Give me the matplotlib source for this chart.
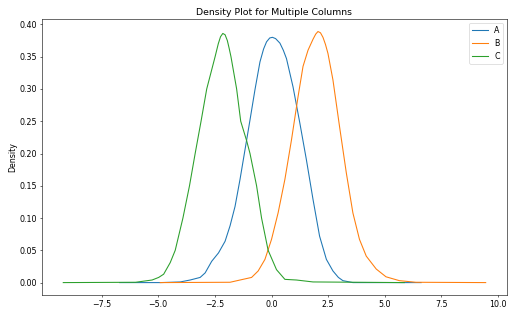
import matplotlib
matplotlib.use("Agg")
import matplotlib.pyplot as plt

# density curves (x, density)
a_x = [-6.7, -4.9, -4.03, -3.59, -3.15, -2.93, -2.64, -2.34, -2.05, -1.83, -1.61,
       -1.39, -1.17, -0.95, -0.73, -0.51, -0.35, -0.22, -0.08, 0.04, 0.18, 0.37,
       0.52, 0.66, 0.95, 1.25, 1.54, 1.83, 2.12, 2.42, 2.71, 2.95, 3.15, 3.59, 6.6]
a_y = [0.0, 0.0, 0.001, 0.004, 0.008, 0.015, 0.033, 0.046, 0.064, 0.088, 0.118,
       0.160, 0.206, 0.252, 0.299, 0.342, 0.362, 0.373, 0.379, 0.380, 0.378, 0.371,
       0.360, 0.347, 0.303, 0.247, 0.190, 0.129, 0.072, 0.036, 0.018, 0.008, 0.003,
       0.0, 0.0]

b_x = [-4.91, -1.83, -1.39, -0.88, -0.59, -0.29, 0.0, 0.29, 0.59, 0.88, 1.17,
       1.39, 1.61, 1.83, 1.95, 2.05, 2.16, 2.27, 2.38, 2.49, 2.71, 3.0, 3.30,
       3.59, 3.88, 4.18, 4.62, 5.05, 5.64, 6.37, 9.45]
b_y = [0.0, 0.0005, 0.004, 0.008, 0.018, 0.036, 0.067, 0.108, 0.160, 0.221, 0.288,
       0.335, 0.360, 0.377, 0.385, 0.389, 0.387, 0.380, 0.369, 0.355, 0.314, 0.242,
       0.170, 0.108, 0.067, 0.041, 0.021, 0.009, 0.003, 0.0005, 0.0]

c_x = [-9.19, -6.0, -5.27, -4.98, -4.76, -4.47, -4.25, -3.91, -3.62, -3.37, -3.11,
       -2.86, -2.49, -2.35, -2.25, -2.15, -2.05, -1.95, -1.87, -1.79, -1.54, -1.36,
       -1.10, -0.95, -0.66, -0.44, -0.15, 0.22, 0.59, 1.10, 1.83, 5.86]
c_y = [0.0, 0.0005, 0.004, 0.008, 0.013, 0.031, 0.05, 0.10, 0.15, 0.20, 0.25,
       0.30, 0.35, 0.370, 0.381, 0.386, 0.384, 0.375, 0.363, 0.35, 0.30, 0.25,
       0.22, 0.20, 0.15, 0.10, 0.05, 0.02, 0.005, 0.004, 0.001, 0.0]

x_ticks = [-7.5, -5.0, -2.5, 0.0, 2.5, 5.0, 7.5, 10.0]

fig = plt.figure(figsize=(10, 316 / 51.4), dpi=51.4)
ax = fig.add_axes([0.082, 0.066, 0.904, 0.874])

ax.plot(a_x, a_y, label='A')
ax.plot(b_x, b_y, label='B')
ax.plot(c_x, c_y, label='C')

ax.set_xticks(x_ticks)
ax.tick_params(labelsize=11)
ax.set_ylabel('Density', fontsize=11)
ax.set_title('Density Plot for Multiple Columns', fontsize=13.2)
ax.legend(loc='upper right', fontsize=11)

fig.savefig('out.png', dpi=51.4)
